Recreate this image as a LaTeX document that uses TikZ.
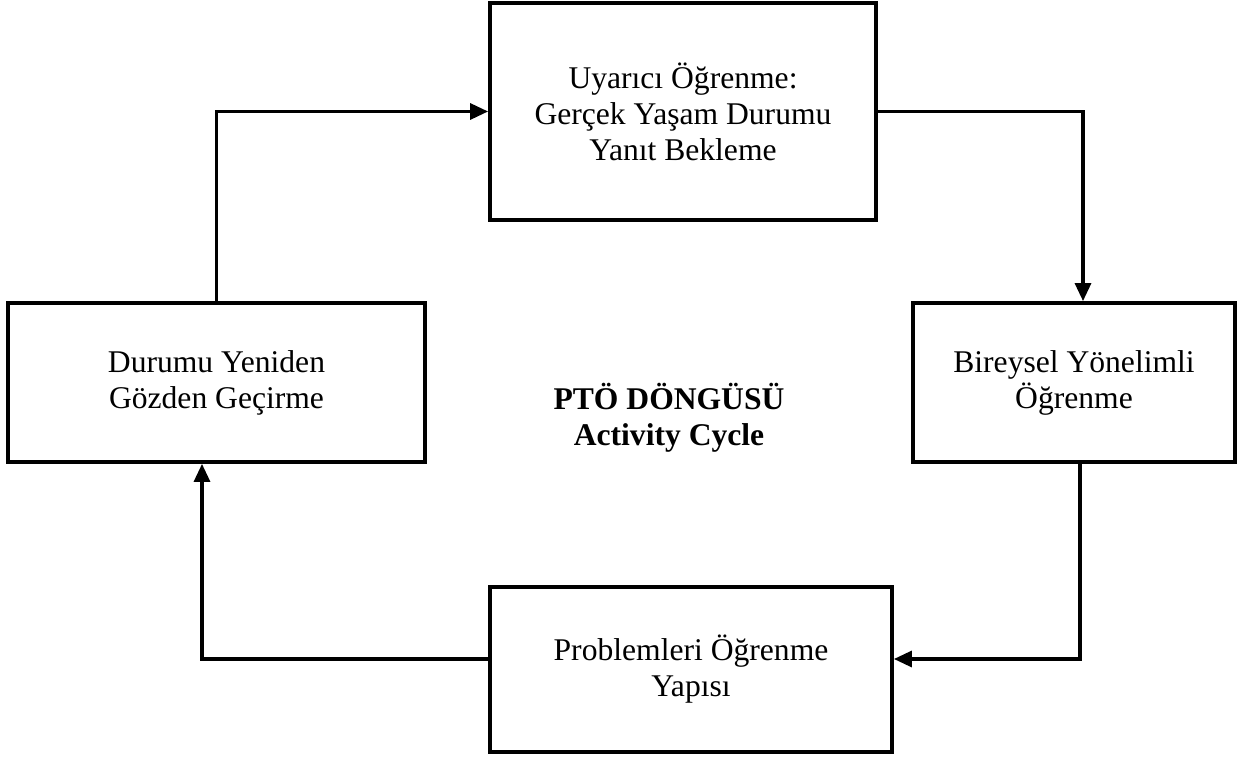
\documentclass[tikz,border=0pt]{standalone}
\usepackage{fontspec}
\setmainfont{Liberation Serif}
\usetikzlibrary{arrows.meta}
\begin{document}
\begin{tikzpicture}[x=0.5pt,y=-0.5pt,
  box/.style={draw,line width=1.9pt,rectangle,inner sep=0pt,align=center,
    font=\fontsize{15.8}{18}\selectfont},
  conn/.style={line width=1.6pt,line join=miter},
  tip/.style={-{Triangle[length=9pt,width=8pt]}}]
\useasboundingbox (0,0) rectangle (1242,758);
\node[box,minimum width=193pt,minimum height=108.5pt] (top) at (683,111.5)
  {Uyarıcı Öğrenme:\\Gerçek Yaşam Durumu\\Yanıt Bekleme};
\node[box,minimum width=208.5pt,minimum height=79.5pt] (left) at (216.5,382.5)
  {Durumu Yeniden\\Gözden Geçirme};
\node[box,minimum width=161pt,minimum height=79.5pt] (right) at (1074,382.5)
  {Bireysel Yönelimli\\Öğrenme};
\node[box,minimum width=201pt,minimum height=82.5pt] (bottom) at (691,669.5)
  {Problemleri Öğrenme\\Yapısı};
\node[align=center,font=\fontsize{15.8}{18}\selectfont\bfseries] (title) at (669,418)
  {PTÖ DÖNGÜSÜ\\Activity Cycle};
\coordinate (c1) at (1083,112);
\coordinate (c2) at (1080,659);
\coordinate (c3) at (202,659);
\draw[conn,tip] (left.north) |- (top.west);
\draw[conn,tip] (top.east) -| (c1 |- right.north);
\draw[conn,tip] (c2 |- right.south) -- (c2) -- (c2 -| bottom.east);
\draw[conn,tip] (c3 -| bottom.west) -- (c3) -- (c3 |- left.south);
\end{tikzpicture}
\end{document}
